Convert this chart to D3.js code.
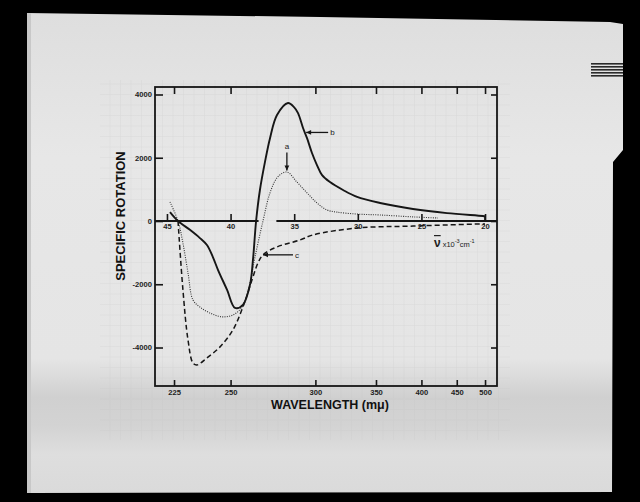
<!DOCTYPE html>
<html>
<head>
<meta charset="utf-8">
<script src="https://cdn.jsdelivr.net/npm/d3@7"></script>
<style>
  body { margin: 0; background: #000; }
  svg { display: block; }
</style>
</head>
<body>
<svg id="chart" width="640" height="502"></svg>
<script>
// curve b (solid): wavelength in mμ, specific rotation
const waveB = [223.4, 226.6, 231.5, 235.8, 238.9, 241.6, 244.0, 248.3, 252.2, 256.2, 259.9, 261.5, 263.2, 265.3, 268.1, 271.0, 275.1, 281.8, 285.6, 288.2, 291.5, 294.2, 297.6, 301.1, 304.8, 310.7, 320.9, 332.7, 354, 389.7, 435, 496, 500];
const rotB  = [280, 0, -280, -540, -760, -1140, -1550, -2180, -2750, -2650, -2020, -1230, 0, 980, 1860, 2620, 3350, 3730, 3600, 3410, 2940, 2620, 2150, 1770, 1450, 1230, 980, 760, 570, 380, 250, 160, 150];

// curve a (dotted)
const waveA = [223.4, 226.6, 228.6, 230.7, 232.8, 235.8, 240.3, 245.8, 251.2, 255.7, 259.9, 262.6, 267.0, 271.0, 275.5, 281.1, 287.5, 294.2, 301.1, 308.4, 316.1, 332.7, 354, 389.7, 422];
const rotA  = [600, 0, -700, -1640, -2500, -2720, -2910, -3030, -2970, -2720, -1960, -1140, 0, 890, 1390, 1550, 1230, 890, 570, 350, 280, 220, 190, 130, 95];

// curve c (dashed)
const waveC = [226.6, 228.6, 230.7, 232.8, 234.5, 238.9, 244.9, 251.2, 256.2, 261.0, 264.2, 267.0, 275.1, 289.5, 298.3, 333.6, 389.7, 490.4, 500];
const rotC  = [0, -2180, -3760, -4490, -4550, -4330, -3980, -3440, -2720, -1860, -1330, -1070, -820, -600, -440, -220, -160, -95, -95];

const wlTicks  = [225, 250, 300, 350, 400, 450, 500];
const nuTicks  = [45, 40, 35, 30, 25, 20];
const rotTicks = [4000, 2000, 0, -2000, -4000];

const svg = d3.select("#chart");
const ink = "#161616";

// the photographed sheet
const defs = svg.append("defs");
const grad = defs.append("linearGradient").attr("id", "paper").attr("x1", 0).attr("y1", 0).attr("x2", 0).attr("y2", 1);
[[0, "#dedede"], [0.3, "#e7e7e7"], [0.72, "#e5e5e5"], [0.8, "#d0d0d0"], [0.86, "#d3d3d3"], [0.92, "#dedede"], [1, "#dadada"]]
  .forEach(s => grad.append("stop").attr("offset", s[0]).attr("stop-color", s[1]));
svg.append("rect").attr("width", 640).attr("height", 502).attr("fill", "#000");
svg.append("path")
  .attr("d", "M27,13 L320,17 L610,22 L623,24 L623,150 L613,162 L612,492 L29,493 Z")
  .attr("fill", "url(#paper)");
svg.append("rect").attr("x", 27).attr("y", 13).attr("width", 4).attr("height", 480).attr("fill", "#c8c8c8");
// dark film strip marks at the top right
[63, 66, 69, 72, 75].forEach(y =>
  svg.append("rect").attr("x", 591).attr("y", y).attr("width", 32).attr("height", 1.6).attr("fill", "#2a2a2a"));

// scales: linear in wavenumber (x10^3 cm^-1), wavelength = 10^4 / wavenumber
const x = d3.scaleLinear().domain([45.94, 19.06]).range([155, 497]);
const xw = w => x(1e4 / w);
const y = d3.scaleLinear().domain([4237, -5217]).range([87, 386]);

// graph paper grid, very faint
const grid = svg.append("g").attr("stroke", "#c4c4c4").attr("stroke-width", 0.5).attr("opacity", 0.35);
d3.range(110, 505, 10.5).forEach(gx =>
  grid.append("line").attr("x1", gx).attr("x2", gx).attr("y1", 80).attr("y2", 440));
d3.range(84, 440, 10.5).forEach(gy =>
  grid.append("line").attr("x1", 100).attr("x2", 510).attr("y1", gy).attr("y2", gy));

// frame
svg.append("rect")
  .attr("x", 155).attr("y", 87).attr("width", 342).attr("height", 299)
  .attr("fill", "none").attr("stroke", ink).attr("stroke-width", 1.8);

const tickFont = g => g.selectAll("text")
  .attr("font-family", "Liberation Sans, Arial, sans-serif")
  .attr("font-size", 7.6).attr("font-weight", "bold").attr("fill", "#222");
const tickLines = g => {
  g.select(".domain").remove();
  g.selectAll("line").attr("stroke", ink).attr("stroke-width", 1.6);
};

const nuOfWl = wlTicks.map(w => 1e4 / w);
// bottom wavelength axis
svg.append("g").attr("transform", "translate(0,386)")
  .call(d3.axisBottom(x).tickValues(nuOfWl).tickFormat(v => Math.round(1e4 / v))
    .tickSizeInner(-6).tickSizeOuter(0).tickPadding(4))
  .call(tickLines).call(tickFont);
// top wavelength ticks
svg.append("g").attr("transform", "translate(0,87)")
  .call(d3.axisTop(x).tickValues(nuOfWl).tickFormat("").tickSizeInner(-7).tickSizeOuter(0))
  .call(tickLines);
// left rotation axis
svg.append("g").attr("transform", "translate(155,0)")
  .call(d3.axisLeft(y).tickValues(rotTicks).tickFormat(d => String(d)).tickSizeInner(-8).tickSizeOuter(0).tickPadding(3))
  .call(tickLines).call(tickFont);
// right ticks
svg.append("g").attr("transform", "translate(497,0)")
  .call(d3.axisRight(y).tickValues(rotTicks).tickFormat("").tickSizeInner(-6).tickSizeOuter(0))
  .call(tickLines);

// zero line, the wavenumber axis (broken where the curves cross)
const zeroGap = [37.8, 36.4];
[[x.domain()[0], zeroGap[0]], [zeroGap[1], x.domain()[1]]].forEach(seg =>
  svg.append("line").attr("x1", x(seg[0])).attr("x2", x(seg[1]))
    .attr("y1", y(0)).attr("y2", y(0)).attr("stroke", ink).attr("stroke-width", 1.8));
svg.append("g").attr("transform", `translate(0,${y(0)})`)
  .call(d3.axisBottom(x).tickValues(nuTicks).tickFormat(d => String(d)).tickSizeInner(-7).tickSizeOuter(0).tickPadding(3))
  .call(tickLines).call(tickFont);

// nu-bar label
const nuLab = svg.append("text").attr("x", 434).attr("y", 247)
  .attr("font-family", "Liberation Sans, Arial, sans-serif").attr("fill", "#222");
nuLab.append("tspan").attr("font-size", 12).attr("font-weight", "bold").attr("text-decoration", "overline").text("ν");
nuLab.append("tspan").attr("font-size", 7.5).attr("dx", 2).text("x10");
nuLab.append("tspan").attr("font-size", 5.5).attr("dy", -4).text("-3");
nuLab.append("tspan").attr("font-size", 7.5).attr("dy", 4).text("cm");
nuLab.append("tspan").attr("font-size", 5.5).attr("dy", -4).text("-1");

// curves
const line = d3.line().x(d => xw(d[0])).y(d => y(d[1])).curve(d3.curveCatmullRom.alpha(0.5));
const zipped = (w, r) => w.map((v, i) => [v, r[i]]);

svg.append("path").datum(zipped(waveA, rotA)).attr("d", line)
  .attr("fill", "none").attr("stroke", "#333").attr("stroke-width", 1.1).attr("stroke-dasharray", "1,1.3");
svg.append("path").datum(zipped(waveC, rotC)).attr("d", line)
  .attr("fill", "none").attr("stroke", ink).attr("stroke-width", 1.5).attr("stroke-dasharray", "5,3");
const dataB = zipped(waveB, rotB);
svg.append("path").datum(dataB).attr("d", line)
  .attr("fill", "none").attr("stroke", ink).attr("stroke-width", 1.9);
// curve b closes down to the axis at 500 mμ
const lastB = dataB[dataB.length - 1];
svg.append("line").attr("x1", xw(lastB[0])).attr("x2", xw(lastB[0]))
  .attr("y1", y(lastB[1])).attr("y2", y(0)).attr("stroke", ink).attr("stroke-width", 1.8);

// curve labels with arrows: tip on the curve, tail offset in px
const labels = [
  { name: "b", wl: 293.6, rot: 2800, dx: 22, dy: 0 },
  { name: "a", wl: 281.1, rot: 1600, dx: 0, dy: -18 },
  { name: "c", wl: 267.0, rot: -1070, dx: 30, dy: 0 }
];
labels.forEach(l => {
  const tx = xw(l.wl), ty = y(l.rot);
  const ex = tx + l.dx, ey = ty + l.dy;
  svg.append("line").attr("x1", ex).attr("y1", ey).attr("x2", tx).attr("y2", ty)
    .attr("stroke", ink).attr("stroke-width", 1.3);
  const ang = Math.atan2(ty - ey, tx - ex);
  const hl = 5, hw = 2.4;
  const p = [
    [tx, ty],
    [tx - hl * Math.cos(ang) + hw * Math.sin(ang), ty - hl * Math.sin(ang) - hw * Math.cos(ang)],
    [tx - hl * Math.cos(ang) - hw * Math.sin(ang), ty - hl * Math.sin(ang) + hw * Math.cos(ang)]
  ];
  svg.append("path").attr("d", "M" + p.join("L") + "Z").attr("fill", ink);
  const t = svg.append("text").attr("font-family", "Liberation Sans, Arial, sans-serif")
    .attr("font-size", 8).attr("fill", "#222").text(l.name);
  if (l.dy < 0) t.attr("x", ex).attr("y", ey - 3).attr("text-anchor", "middle");
  else t.attr("x", ex + 2).attr("y", ey + 3);
});

// axis titles
svg.append("text").attr("transform", "translate(125,216) rotate(-90)")
  .attr("text-anchor", "middle")
  .attr("font-family", "Liberation Sans, Arial, sans-serif").attr("font-weight", "bold")
  .attr("font-size", 13).attr("fill", "#111").text("SPECIFIC ROTATION");
svg.append("text").attr("x", 330).attr("y", 409)
  .attr("text-anchor", "middle")
  .attr("font-family", "Liberation Sans, Arial, sans-serif").attr("font-weight", "bold")
  .attr("font-size", 12.5).attr("fill", "#111").text("WAVELENGTH (mμ)");
</script>
</body>
</html>
